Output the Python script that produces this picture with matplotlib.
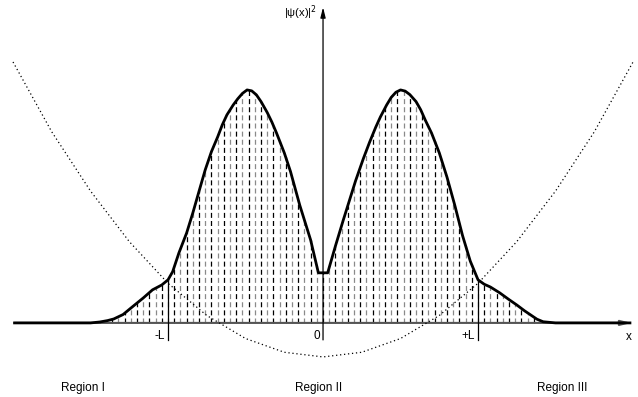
import numpy as np
import matplotlib
matplotlib.use('Agg')
import matplotlib.pyplot as plt

plt.rcParams['font.family'] = ['Liberation Sans', 'DejaVu Sans']

# probability density |psi(x)|^2, x in units of L, peak normalised to 1
x_psi = [-1.99, -1.50, -1.44, -1.39, -1.35, -1.29, -1.23, -1.16, -1.10, -1.04,
         -1.00, -0.97, -0.93, -0.88, -0.84, -0.80, -0.76, -0.72, -0.68, -0.65,
         -0.62, -0.58, -0.55, -0.52, -0.49, -0.46, -0.43, -0.40, -0.36, -0.33,
         -0.30, -0.25, -0.21, -0.15, -0.08, -0.03, 0.03, 0.08, 0.13, 0.17,
         0.21, 0.26, 0.30, 0.34, 0.37, 0.41, 0.44, 0.47, 0.50, 0.53,
         0.56, 0.60, 0.63, 0.66, 0.70, 0.75, 0.80, 0.85, 0.90, 0.95,
         1.00, 1.04, 1.08, 1.14, 1.20, 1.25, 1.30, 1.34, 1.38, 1.42,
         1.50, 1.98]
y_psi = [0.0, 0.0, 0.004, 0.010, 0.017, 0.036, 0.069, 0.107, 0.142, 0.163,
         0.185, 0.22, 0.30, 0.386, 0.472, 0.565, 0.657, 0.735, 0.798, 0.850,
         0.893, 0.935, 0.962, 0.985, 1.0, 0.996, 0.979, 0.950, 0.903, 0.862,
         0.815, 0.730, 0.650, 0.505, 0.356, 0.215, 0.215, 0.330, 0.440, 0.525,
         0.610, 0.705, 0.775, 0.840, 0.884, 0.935, 0.968, 0.990, 1.0, 0.995,
         0.980, 0.950, 0.915, 0.870, 0.815, 0.730, 0.625, 0.505, 0.375, 0.265,
         0.185, 0.166, 0.154, 0.129, 0.100, 0.077, 0.052, 0.034, 0.016, 0.005,
         0.0, 0.0]

# harmonic-like potential (dotted)
x_pot = [-2.0, -1.75, -1.5, -1.25, -1.0, -0.75, -0.5, -0.25, 0.0,
         0.25, 0.5, 0.75, 1.0, 1.25, 1.5, 1.75, 2.0]
y_pot = [1.12, 0.82, 0.566, 0.349, 0.17, 0.032, -0.067, -0.126, -0.146,
         -0.126, -0.067, 0.032, 0.17, 0.349, 0.566, 0.82, 1.12]

tick_pos = [-1.0, 0.0, 1.0]
tick_labels = ['-L', '0', '+L']
regions = ['Region I', 'Region II', 'Region III']
region_x = [-1.55, -0.03, 1.54]

fig = plt.figure(figsize=(6.38, 3.97), dpi=100)
ax = fig.add_axes([0, 0, 1, 1])
ax.set_xlim(-2.084, 2.032)
ax.set_ylim(-0.318, 1.386)
ax.axis('off')

# vertical hatching under the curve
hx = np.arange(-1.44, 1.43, 0.04)
hy = np.interp(hx, x_psi, y_psi)
for i, (xx, yy) in enumerate(zip(hx, hy)):
    col = 'black' if i % 2 == 0 else '#8a8a8a'
    ax.plot([xx, xx], [0, yy], color=col, lw=0.9, linestyle=(0, (4, 2.5)),
            zorder=1)

# x axis
ax.annotate('', xy=(1.99, 0), xytext=(-1.99, 0),
            arrowprops=dict(arrowstyle='-|>,head_length=0.6,head_width=0.15',
                            color='#555555', lw=1.5, shrinkA=0, shrinkB=0),
            zorder=2)
# y axis
ax.annotate('', xy=(0, 1.355), xytext=(0, -0.073),
            arrowprops=dict(arrowstyle='-|>,head_length=0.6,head_width=0.15',
                            color='black', lw=0.9, shrinkA=0, shrinkB=0),
            zorder=4)

# potential
ax.plot(x_pot, y_pot, color='black', lw=0.9, linestyle=(0, (1, 2.2)), zorder=2)

# density curve
ax.plot(x_psi, y_psi, color='black', lw=2.0, zorder=3, solid_joinstyle='round')

# markers at -L and +L
for p in [-1.0, 1.0]:
    top = np.interp(p, x_psi, y_psi)
    ax.plot([p, p], [-0.073, top], color='black', lw=0.9, zorder=4)

for p, lab in zip(tick_pos, tick_labels):
    ax.text(p - 0.02, -0.058, lab, ha='right', va='center', fontsize=8.5)

ax.text(1.97, -0.06, 'x', ha='center', va='center', fontsize=8.5)
ax.text(-0.04, 1.33, r'|$\mathregular{\psi}$(x)|$^{2}$', ha='right',
        va='center', fontsize=8)

for rx, lab in zip(region_x, regions):
    ax.text(rx, -0.28, lab, ha='center', va='center', fontsize=8.5)

fig.savefig('out.png', dpi=100)
